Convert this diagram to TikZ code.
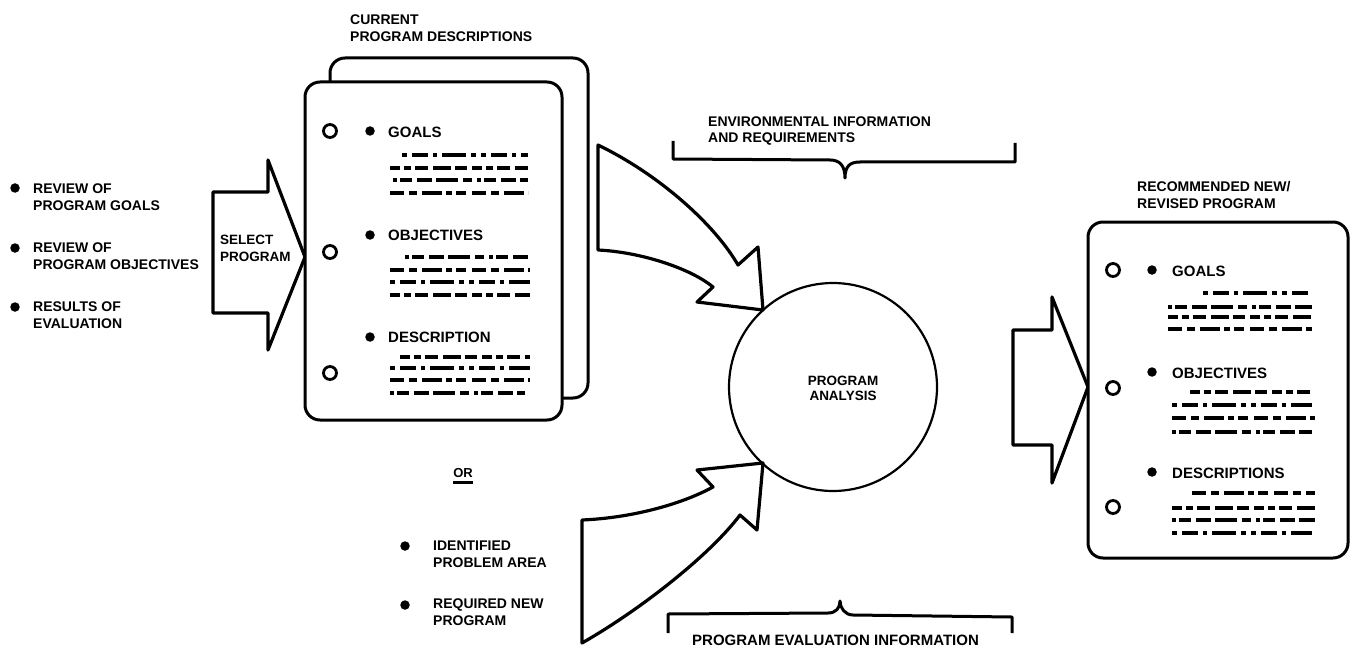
\documentclass[tikz,border=0pt]{standalone}
\usepackage{fontspec}
\setmainfont{Liberation Sans}
\begin{document}
\begin{tikzpicture}[x=1pt,y=-1pt,
  lbl/.style={font=\fontsize{14}{17.5}\selectfont\bfseries, align=left, anchor=west, inner sep=0pt},
  head/.style={font=\fontsize{15}{17}\selectfont\bfseries, anchor=west, inner sep=0pt},
  thick outline/.style={line width=3.2pt, line join=round},
  doc/.style={draw, fill=white, line width=3pt, rounded corners=15pt, inner sep=0pt},
  hole/.style={circle, draw, line width=2.8pt, minimum size=13pt, inner sep=0pt},
  dot/.style={circle, fill, minimum size=9.5pt, inner sep=0pt},
  g1/.style={line width=3.6pt, dash pattern=on 5pt off 5pt on 16pt off 5pt on 4pt off 5pt on 24pt off 5pt on 5pt off 5pt},
  g2/.style={line width=3.6pt, dash pattern=on 10pt off 4pt on 7pt off 4pt on 13pt off 5pt on 18pt off 4pt on 12pt off 5pt},
  g3/.style={line width=3.6pt, dash pattern=on 4pt off 3pt on 12pt off 5pt on 15pt off 4pt on 22pt off 5pt on 9pt off 5pt},
  g4/.style={line width=3.6pt, dash pattern=on 14pt off 5pt on 8pt off 5pt on 20pt off 4pt on 6pt off 4pt on 10pt off 6pt}
]
\useasboundingbox[fill=white] (0,0) rectangle (1356,655);

% ---------- left inputs ----------
\node[dot] (b1) at (15,188) {};
\node[dot] (b2) at (15,248) {};
\node[dot] (b3) at (15,307) {};
\node[lbl] (l1) at (33,197) {REVIEW OF\\PROGRAM GOALS};
\node[lbl] (l2) at (33,256) {REVIEW OF\\PROGRAM OBJECTIVES};
\node[lbl] (l3) at (33,315) {RESULTS OF\\EVALUATION};

% ---------- select program arrow ----------
\draw[thick outline] (213,192) -- (268,192) -- (268,160) -- (305,257) -- (268,350) -- (268,313) -- (213,313) -- cycle;
\node[lbl, font=\fontsize{13.5}{17}\selectfont\bfseries] (sel) at (220,248) {SELECT\\PROGRAM};

% ---------- current program descriptions ----------
\node[lbl] (cur) at (350,28) {CURRENT\\PROGRAM DESCRIPTIONS};
\node[doc, minimum width=258pt, minimum height=340pt] (back) at (459,228) {};
\node[doc, minimum width=257pt, minimum height=338pt] (front) at (433.5,251) {};
\node[hole] (h1) at (330,131) {};
\node[hole] (h2) at (330,252) {};
\node[hole] (h3) at (330,373) {};
\node[dot] (d1) at (370,131) {};
\node[dot] (d2) at (370,235) {};
\node[dot] (d3) at (370,337) {};
\node[head] (t1) at (388,132) {GOALS};
\node[head] (t2) at (388,235) {OBJECTIVES};
\node[head] (t3) at (388,337) {DESCRIPTION};
\draw[g1] (402,155) -- (528,155);
\draw[g2] (390,168) -- (528,168);
\draw[g3] (393,180) -- (528,180);
\draw[g4] (390,193) -- (528,193);
\draw[g3] (405,257) -- (530,257);
\draw[g4] (390,270) -- (530,270);
\draw[g1] (390,282) -- (530,282);
\draw[g2] (390,295) -- (530,295);
\draw[g2] (400,357) -- (530,357);
\draw[g1] (390,368) -- (530,368);
\draw[g4] (390,380) -- (530,380);
\draw[g3] (390,393) -- (525,393);

% ---------- environmental information ----------
\node[lbl, font=\fontsize{14}{15.5}\selectfont\bfseries] (env) at (708,131) {ENVIRONMENTAL INFORMATION\\AND REQUIREMENTS};
\draw[line width=3pt, line join=round] (673,141) -- (673,159) -- (830,160) .. controls (840,160) and (845,166) .. (845,178) .. controls (845,166) and (850,162) .. (860,162) -- (1015,162) -- (1015,143);

% ---------- curved arrows ----------
\draw[thick outline] (598,145) -- (598,250) .. controls (640,252) and (690,268) .. (713,287) -- (697,302) -- (763,310) -- (758,247) -- (738,265) .. controls (715,225) and (660,175) .. (598,145) -- cycle;
\draw[thick outline] (582,643) -- (582,520) .. controls (630,518) and (680,505) .. (713,487) -- (697,470) -- (763,463) -- (757,530) -- (740,515) .. controls (710,555) and (640,610) .. (582,643) -- cycle;

% ---------- program analysis ----------
\node[circle, draw, line width=2.2pt, minimum size=208pt, inner sep=0pt] (pa) at (833,387) {};
\node[font=\fontsize{13.5}{15}\selectfont\bfseries, align=center, inner sep=0pt] (patext) at (843,388) {PROGRAM\\ANALYSIS};

% ---------- or / new program ----------
\node[font=\fontsize{13}{14}\selectfont\bfseries, inner sep=0pt] (or) at (463,473) {OR};
\draw[line width=3pt] (or.south west) ++(0,5) coordinate (u1) -- (or.south east |- u1);
\node[dot] (b4) at (405,546) {};
\node[dot] (b5) at (405,605) {};
\node[lbl] (l4) at (433,554) {IDENTIFIED\\PROBLEM AREA};
\node[lbl] (l5) at (433,612) {REQUIRED NEW\\PROGRAM};

% ---------- program evaluation information ----------
\draw[line width=3pt, line join=round] (668,633) -- (668,614) -- (828,613) .. controls (836,613) and (840,608) .. (840,601) .. controls (840,608) and (845,615) .. (853,615) -- (1012,617) -- (1012,633);
\node[lbl, font=\fontsize{15}{17}\selectfont\bfseries] (pei) at (692,640) {PROGRAM EVALUATION INFORMATION};

% ---------- right arrow ----------
\draw[thick outline] (1013,330) -- (1052,330) -- (1052,297) -- (1088,387) -- (1052,483) -- (1052,445) -- (1013,445) -- cycle;

% ---------- recommended program ----------
\node[lbl] (rec) at (1137,195) {RECOMMENDED NEW/\\REVISED PROGRAM};
\node[doc, minimum width=260pt, minimum height=336pt] (right) at (1218,390) {};
\node[hole] (h4) at (1113,270) {};
\node[hole] (h5) at (1113,388) {};
\node[hole] (h6) at (1113,507) {};
\node[dot] (d4) at (1152,270) {};
\node[dot] (d5) at (1152,372) {};
\node[dot] (d6) at (1152,472) {};
\node[head] (t4) at (1172,271) {GOALS};
\node[head] (t5) at (1172,373) {OBJECTIVES};
\node[head] (t6) at (1172,473) {DESCRIPTIONS};
\draw[g1] (1203,293) -- (1312,293);
\draw[g3] (1168,307) -- (1312,307);
\draw[g2] (1168,317) -- (1312,317);
\draw[g4] (1168,329) -- (1312,329);
\draw[g2] (1190,392) -- (1312,392);
\draw[g1] (1172,405) -- (1312,405);
\draw[g4] (1172,418) -- (1315,418);
\draw[g3] (1172,432) -- (1312,432);
\draw[g4] (1192,493) -- (1315,493);
\draw[g2] (1172,508) -- (1315,508);
\draw[g3] (1172,520) -- (1315,520);
\draw[g1] (1172,533) -- (1312,533);
\end{tikzpicture}
\end{document}
